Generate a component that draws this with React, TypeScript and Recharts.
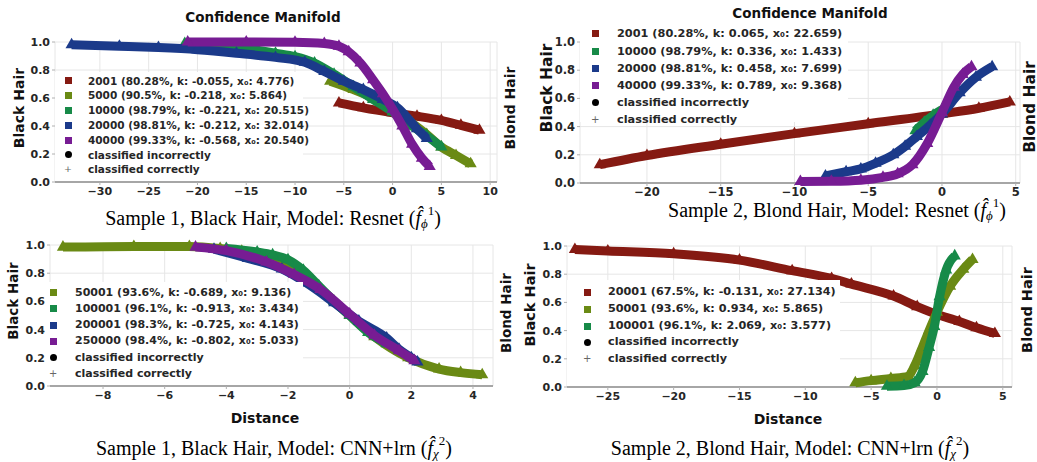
import React from "react";
import {
  ScatterChart,
  Scatter,
  XAxis,
  YAxis,
  ZAxis,
  CartesianGrid,
  Legend,
} from "recharts";

const RED = "#851a12";
const OLIVE = "#6a8a14";
const GREEN = "#178a48";
const BLUE = "#1b3a8a";
const PURPLE = "#771c93";

const yTicks = [0, 0.2, 0.4, 0.6, 0.8, 1.0];

// Sample 1, Black Hair, Resnet
const p1Ticks = [-30, -25, -20, -15, -10, -5, 0, 5, 10];
const p1Red = [
  { x: -5.5, y: 0.565 }, { x: -3, y: 0.53 }, { x: 0, y: 0.495 }, { x: 2.5, y: 0.47 },
  { x: 5, y: 0.44 }, { x: 7, y: 0.405 }, { x: 8.9, y: 0.37 },
];
const p1Olive = [
  { x: -6.4, y: 0.72 }, { x: -4, y: 0.66 }, { x: -2, y: 0.6 }, { x: 0, y: 0.52 },
  { x: 2, y: 0.42 }, { x: 3.5, y: 0.34 }, { x: 5, y: 0.25 }, { x: 6.5, y: 0.19 }, { x: 8, y: 0.13 },
];
const p1Green = [
  { x: -21.3, y: 0.99 }, { x: -18, y: 0.975 }, { x: -15, y: 0.955 }, { x: -12, y: 0.92 },
  { x: -10, y: 0.895 }, { x: -8, y: 0.85 }, { x: -6, y: 0.77 }, { x: -4, y: 0.68 },
  { x: -2, y: 0.59 }, { x: 0, y: 0.5 }, { x: 2, y: 0.4 }, { x: 3.5, y: 0.33 }, { x: 5, y: 0.25 },
];
const p1Blue = [
  { x: -32.9, y: 0.98 }, { x: -28, y: 0.97 }, { x: -24, y: 0.96 }, { x: -20, y: 0.945 },
  { x: -16, y: 0.92 }, { x: -12, y: 0.89 }, { x: -9, y: 0.855 }, { x: -7, y: 0.79 },
  { x: -5, y: 0.72 }, { x: -3, y: 0.66 }, { x: -1, y: 0.59 }, { x: 0.5, y: 0.53 },
  { x: 1.5, y: 0.46 }, { x: 2.5, y: 0.38 }, { x: 3.5, y: 0.31 },
];
const p1Purple = [
  { x: -21, y: 1.0 }, { x: -15, y: 1.0 }, { x: -10, y: 0.998 }, { x: -7, y: 0.99 },
  { x: -5.5, y: 0.97 }, { x: -4.5, y: 0.93 }, { x: -3.3, y: 0.85 }, { x: -2, y: 0.73 },
  { x: -1, y: 0.63 }, { x: 0, y: 0.52 }, { x: 1, y: 0.4 }, { x: 2, y: 0.27 },
  { x: 3, y: 0.17 }, { x: 3.8, y: 0.11 },
];

// Sample 2, Blond Hair, Resnet
const p2Ticks = [-20, -15, -10, -5, 0, 5];
const p2Red = [
  { x: -23.2, y: 0.13 }, { x: -20, y: 0.195 }, { x: -15, y: 0.275 }, { x: -10, y: 0.35 },
  { x: -5, y: 0.42 }, { x: 0, y: 0.49 }, { x: 2.5, y: 0.53 }, { x: 4.6, y: 0.575 },
];
const p2Green = [
  { x: -1.8, y: 0.37 }, { x: -1.2, y: 0.43 }, { x: -0.6, y: 0.48 }, { x: 0, y: 0.52 },
];
const p2Blue = [
  { x: -7.9, y: 0.05 }, { x: -6.5, y: 0.08 }, { x: -5.5, y: 0.1 }, { x: -4.5, y: 0.14 },
  { x: -3.3, y: 0.2 }, { x: -2.5, y: 0.26 }, { x: -1.7, y: 0.33 }, { x: -0.8, y: 0.41 },
  { x: 0, y: 0.49 }, { x: 1.2, y: 0.64 }, { x: 2.3, y: 0.75 }, { x: 3.4, y: 0.825 },
];
const p2Purple = [
  { x: -9.6, y: 0.01 }, { x: -7.5, y: 0.012 }, { x: -5.5, y: 0.02 }, { x: -4, y: 0.04 },
  { x: -3, y: 0.065 }, { x: -2, y: 0.13 }, { x: -1, y: 0.28 }, { x: 0, y: 0.5 },
  { x: 0.8, y: 0.68 }, { x: 1.4, y: 0.77 }, { x: 2, y: 0.825 },
];

// Sample 1, Black Hair, CNN+lrn
const p3Ticks = [-8, -6, -4, -2, 0, 2, 4];
const p3Olive = [
  { x: -9.3, y: 0.985 }, { x: -7, y: 0.99 }, { x: -5.2, y: 0.99 }, { x: -4.2, y: 0.975 },
  { x: -3.5, y: 0.955 }, { x: -2.5, y: 0.915 }, { x: -2, y: 0.875 }, { x: -1.5, y: 0.8 },
  { x: -1, y: 0.7 }, { x: -0.5, y: 0.6 }, { x: 0, y: 0.5 }, { x: 0.8, y: 0.35 },
  { x: 1.9, y: 0.2 }, { x: 2.9, y: 0.12 }, { x: 3.6, y: 0.095 }, { x: 4.3, y: 0.08 },
];
const p3Green = [
  { x: -4, y: 0.975 }, { x: -3, y: 0.95 }, { x: -2.5, y: 0.93 }, { x: -2, y: 0.895 },
  { x: -1.5, y: 0.82 }, { x: -1, y: 0.71 }, { x: -0.5, y: 0.6 }, { x: 0, y: 0.5 },
  { x: 0.6, y: 0.38 }, { x: 1.2, y: 0.3 },
];
const p3Blue = [
  { x: -4.4, y: 0.97 }, { x: -3.3, y: 0.905 }, { x: -2.2, y: 0.83 }, { x: -1.4, y: 0.73 },
  { x: -0.5, y: 0.59 }, { x: 0.3, y: 0.46 }, { x: 1.2, y: 0.34 }, { x: 1.6, y: 0.26 },
  { x: 2, y: 0.2 }, { x: 2.2, y: 0.17 },
];
const p3Purple = [
  { x: -5, y: 0.985 }, { x: -4, y: 0.96 }, { x: -2.7, y: 0.88 }, { x: -1.8, y: 0.79 },
  { x: -0.95, y: 0.685 }, { x: 0, y: 0.51 }, { x: 0.8, y: 0.36 }, { x: 1.6, y: 0.25 },
  { x: 2.1, y: 0.18 },
];

// Sample 2, Blond Hair, CNN+lrn
const p4Ticks = [-25, -20, -15, -10, -5, 0, 5];
const p4Red = [
  { x: -27.5, y: 0.975 }, { x: -25, y: 0.965 }, { x: -20, y: 0.945 }, { x: -15, y: 0.9 },
  { x: -11, y: 0.825 }, { x: -8, y: 0.77 }, { x: -6.5, y: 0.73 }, { x: -3.3, y: 0.645 },
  { x: -1.5, y: 0.57 }, { x: 0, y: 0.515 }, { x: 1.7, y: 0.465 }, { x: 3, y: 0.42 },
  { x: 4.4, y: 0.38 },
];
const p4Olive = [
  { x: -6.2, y: 0.03 }, { x: -5, y: 0.045 }, { x: -3.5, y: 0.06 }, { x: -2.2, y: 0.075 },
  { x: -1.7, y: 0.15 }, { x: -1.2, y: 0.26 }, { x: -0.6, y: 0.4 }, { x: 0, y: 0.53 },
  { x: 1, y: 0.715 }, { x: 2, y: 0.835 }, { x: 2.7, y: 0.905 },
];
const p4Green = [
  { x: -3.8, y: 0.005 }, { x: -2.5, y: 0.01 }, { x: -1.7, y: 0.03 }, { x: -1.1, y: 0.11 },
  { x: -0.6, y: 0.28 }, { x: -0.2, y: 0.43 }, { x: 0.2, y: 0.64 }, { x: 0.7, y: 0.83 },
  { x: 1.35, y: 0.93 },
];

const panels = [
  {
    left: 0, top: 0, width: 520, height: 230,
    margin: { top: 42, right: 23, bottom: 28, left: 15 },
    domain: [-34.6, 10.7], ticks: p1Ticks, tickFont: 11,
    legend: { left: 55, top: 72, width: 248, height: 109, rowH: 14.8, padTop: 1.6, markerX: 13, textX: 33, font: 10.5 },
    series: [
      { label: "2001 (80.28%, k: -0.055, x₀: 4.776)", color: RED, data: p1Red },
      { label: "5000 (90.5%, k: -0.218, x₀: 5.864)", color: OLIVE, data: p1Olive },
      { label: "10000 (98.79%, k: -0.221, x₀: 20.515)", color: GREEN, data: p1Green },
      { label: "20000 (98.81%, k: -0.212, x₀: 32.014)", color: BLUE, data: p1Blue },
      { label: "40000 (99.33%, k: -0.568, x₀: 20.540)", color: PURPLE, data: p1Purple },
    ],
  },
  {
    left: 520, top: 0, width: 517, height: 230,
    margin: { top: 42, right: 17, bottom: 27, left: 20 },
    domain: [-24.54, 5.29], ticks: p2Ticks, tickFont: 11.5,
    legend: { left: 60, top: 25, width: 268, height: 97, rowH: 17.2, padTop: 0.4, markerX: 15, textX: 37, font: 11.3 },
    series: [
      { label: "2001 (80.28%, k: 0.065, x₀: 22.659)", color: RED, data: p2Red },
      { label: "10000 (98.79%, k: 0.336, x₀: 1.433)", color: GREEN, data: p2Green },
      { label: "20000 (98.81%, k: 0.458, x₀: 7.699)", color: BLUE, data: p2Blue },
      { label: "40000 (99.33%, k: 0.789, x₀: 9.368)", color: PURPLE, data: p2Purple },
    ],
  },
  {
    left: 0, top: 230, width: 520, height: 232,
    margin: { top: 15, right: 27, bottom: 56, left: 10 },
    domain: [-9.72, 4.65], ticks: p3Ticks, tickFont: 11,
    legend: { left: 47, top: 52, width: 256, height: 103, rowH: 16.3, padTop: 2.5, markerX: 6, textX: 28, font: 11 },
    series: [
      { label: "50001 (93.6%, k: -0.689, x₀: 9.136)", color: OLIVE, data: p3Olive },
      { label: "100001 (96.1%, k: -0.913, x₀: 3.434)", color: GREEN, data: p3Green },
      { label: "200001 (98.3%, k: -0.725, x₀: 4.143)", color: BLUE, data: p3Blue },
      { label: "250000 (98.4%, k: -0.802, x₀: 5.033)", color: PURPLE, data: p3Purple },
    ],
  },
  {
    left: 520, top: 230, width: 517, height: 232,
    margin: { top: 16, right: 25, bottom: 55, left: 7 },
    domain: [-28.1, 5.7], ticks: p4Ticks, tickFont: 11,
    legend: { left: 47, top: 50, width: 273, height: 106, rowH: 16.7, padTop: 4.3, markerX: 20, textX: 41, font: 11.2 },
    series: [
      { label: "20001 (67.5%, k: -0.131, x₀: 27.134)", color: RED, data: p4Red },
      { label: "50001 (93.6%, k: 0.934, x₀: 5.865)", color: OLIVE, data: p4Olive },
      { label: "100001 (96.1%, k: 2.069, x₀: 3.577)", color: GREEN, data: p4Green },
    ],
  },
];

const SANS = "'DejaVu Sans', sans-serif";
const SERIF = "'Liberation Serif', 'Times New Roman', serif";

const fmtX = (v: number) => (v < 0 ? `\u2212${-v}` : `${v}`);

function LegendBox({ cfg, series }: any) {
  const rows = [
    ...series.map((s: any) => ({ label: s.label, marker: "square", color: s.color })),
    { label: "classified incorrectly", marker: "circle", color: "#000" },
    { label: "classified correctly", marker: "plus", color: "#666" },
  ];
  return (
    <div style={{ paddingTop: cfg.padTop, fontFamily: SANS, fontWeight: 700, fontSize: cfg.font, color: "#262626" }}>
      {rows.map((r, i) => (
        <div key={i} style={{ position: "relative", height: cfg.rowH, lineHeight: `${cfg.rowH}px`, whiteSpace: "nowrap" }}>
          {r.marker === "square" && (
            <span style={{ position: "absolute", left: cfg.markerX - 3.5, top: cfg.rowH / 2 - 3.5, width: 7, height: 7, background: r.color }} />
          )}
          {r.marker === "circle" && (
            <span style={{ position: "absolute", left: cfg.markerX - 3.5, top: cfg.rowH / 2 - 3.5, width: 7, height: 7, borderRadius: "50%", background: r.color }} />
          )}
          {r.marker === "plus" && (
            <span style={{ position: "absolute", left: cfg.markerX - 4, top: 0, width: 8, textAlign: "center", fontSize: cfg.font * 0.9, fontWeight: 400, color: r.color }}>+</span>
          )}
          <span style={{ position: "absolute", left: cfg.textX }}>{r.label}</span>
        </div>
      ))}
    </div>
  );
}

function Panel({ cfg }: any) {
  const tick = { fontSize: cfg.tickFont, fontWeight: 700, fill: "#262626", fontFamily: SANS };
  return (
    <div style={{ position: "absolute", left: cfg.left, top: cfg.top }}>
      <ScatterChart width={cfg.width} height={cfg.height} margin={cfg.margin}>
        <CartesianGrid stroke="#e6e6e6" />
        <XAxis
          type="number"
          dataKey="x"
          domain={cfg.domain}
          ticks={cfg.ticks}
          tickFormatter={fmtX}
          height={20}
          tick={tick}
          tickSize={3}
          tickMargin={2}
          tickLine={{ stroke: "#b0b0b0" }}
          axisLine={{ stroke: "#8c8c8c", strokeWidth: 1.5 }}
          interval={0}
        />
        <YAxis
          type="number"
          dataKey="y"
          domain={[0, 1]}
          ticks={yTicks}
          tickFormatter={(v: number) => v.toFixed(1)}
          width={40}
          tick={tick}
          tickSize={3}
          tickMargin={2}
          tickLine={{ stroke: "#b0b0b0" }}
          axisLine={false}
          interval={0}
        />
        <ZAxis range={[22, 22]} />
        {cfg.series.map((s: any) => (
          <Scatter
            key={s.label}
            name={s.label}
            data={s.data}
            fill={s.color}
            shape="triangle"
            line={{ stroke: s.color, strokeWidth: 9 }}
            lineJointType="monotoneX"
            isAnimationActive={false}
          />
        ))}
        <Legend
          layout="vertical"
          align="center"
          verticalAlign="middle"
          wrapperStyle={{
            left: cfg.legend.left,
            top: cfg.legend.top,
            width: cfg.legend.width,
            height: cfg.legend.height,
            backgroundColor: "#fff",
          }}
          content={() => <LegendBox cfg={cfg.legend} series={cfg.series} />}
        />
      </ScatterChart>
    </div>
  );
}

function Text({ x, y, size, rotate, serif, bold = true, children }: any) {
  return (
    <div
      style={{
        position: "absolute",
        left: x,
        top: y,
        transform: `translate(-50%, -50%)${rotate ? " rotate(-90deg)" : ""}`,
        whiteSpace: "nowrap",
        fontFamily: serif ? SERIF : SANS,
        fontWeight: bold ? 700 : 400,
        fontSize: size,
        lineHeight: 1,
        color: serif ? "#000" : "#111",
      }}
    >
      {children}
    </div>
  );
}

function Caption({ x, y, text, sub, sup }: any) {
  return (
    <Text x={x} y={y} size={20} serif bold={false}>
      {text} (<i>f&#770;</i>
      <sub style={{ fontSize: 13, verticalAlign: "-0.25em", fontStyle: "italic", lineHeight: 0 }}>{sub}</sub>
      <sup style={{ fontSize: 13, verticalAlign: "0.75em", lineHeight: 0 }}>{sup}</sup>)
    </Text>
  );
}

export default function App() {
  return (
    <div style={{ position: "absolute", left: 0, top: 0, width: 1037, height: 462, overflow: "hidden", background: "#fff" }}>
      {panels.map((p, i) => (
        <Panel key={i} cfg={p} />
      ))}
      <Text x={263} y={18} size={13.5}>Confidence Manifold</Text>
      <Text x={810} y={14} size={13.5}>Confidence Manifold</Text>

      <Text x={19} y={108} size={14} rotate>Black Hair</Text>
      <Text x={510} y={108} size={14} rotate>Blond Hair</Text>
      <Text x={548} y={88} size={15.5} rotate>Black Hair</Text>
      <Text x={1031} y={107} size={15.5} rotate>Blond Hair</Text>
      <Text x={14} y={301} size={13.5} rotate>Black Hair</Text>
      <Text x={507} y={313} size={13.5} rotate>Blond Hair</Text>
      <Text x={530} y={305} size={14.5} rotate>Black Hair</Text>
      <Text x={1027} y={310} size={14.5} rotate>Blond Hair</Text>

      <Text x={265} y={418} size={14}>Distance</Text>
      <Text x={788} y={419} size={14}>Distance</Text>

      <Caption x={273} y={218} text="Sample 1, Black Hair, Model: Resnet" sub="ϕ" sup="1" />
      <Caption x={837} y={210} text="Sample 2, Blond Hair, Model: Resnet" sub="ϕ" sup="1" />
      <Caption x={274} y={448} text="Sample 1, Black Hair, Model: CNN+lrn" sub="χ" sup="2" />
      <Caption x={790} y={448} text="Sample 2, Blond Hair, Model: CNN+lrn" sub="χ" sup="2" />
    </div>
  );
}
